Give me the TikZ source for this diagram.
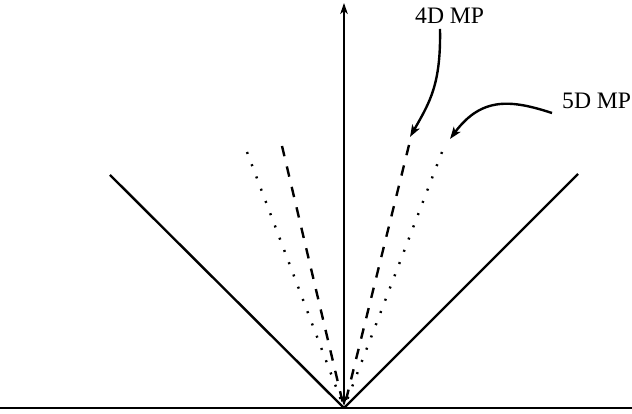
\documentclass[tikz,border=0pt]{standalone}
\usepackage{fontspec}
\setmainfont{Liberation Serif}
\usetikzlibrary{arrows.meta}
\begin{document}
\begin{tikzpicture}[x=1pt,y=1pt,
  solidline/.style={line width=2.4pt},
  dashline/.style={line width=2.4pt, dash pattern=on 10.5pt off 10.5pt},
  dotline/.style={line width=2.4pt, dash pattern=on 2pt off 11.1pt},
  axisarrow/.style={line width=2.2pt, {Stealth[length=11pt,width=7.5pt,inset=3pt]}-{Stealth[length=11pt,width=7.5pt,inset=3pt]}},
  pointer/.style={line width=2.4pt, -{Stealth[length=12pt,width=8.5pt,inset=3pt]}},
  lbl/.style={font=\fontsize{23.6}{28}\selectfont, inner sep=0pt, anchor=base west}]
\useasboundingbox (0,0) rectangle (632,414);
% named points (image y flipped: y = 414 - y_img)
\coordinate (O) at (344,6);
\coordinate (Otip) at (344,8);
\coordinate (Top) at (344,411);
\coordinate (HL) at (0,6);
\coordinate (HR) at (632,6);
\coordinate (LT) at (110,239);
\coordinate (RT) at (578,240);
\coordinate (DL) at (282,268);
\coordinate (PL) at (247,262);
\coordinate (DR) at (409,269);
\coordinate (PR) at (442,262);
% base line and light cone
\draw[solidline] (HL) -- (HR);
\draw[solidline] (LT) -- (O);
\draw[solidline] (RT) -- (O);
% dashed and dotted cones
\draw[dashline] (DL) -- (O);
\draw[dashline] (DR) -- (O);
\draw[dotline] (PL) -- (O);
\draw[dotline] (PR) -- (O);
% vertical axis
\draw[axisarrow] (Otip) -- (Top);
% labels
\node[lbl] (l4) at (415,390) {4D MP};
\node[lbl] (l5) at (562,305) {5D MP};
\coordinate (s4) at (440,385);
\coordinate (t4) at (410,277);
\coordinate (s5) at (552,301);
\coordinate (t5) at (450,275);
\draw[pointer] (s4) .. controls (441,330) and (430,312) .. (t4);
\draw[pointer] (s5) .. controls (512,314) and (482,318) .. (t5);
\end{tikzpicture}
\end{document}
